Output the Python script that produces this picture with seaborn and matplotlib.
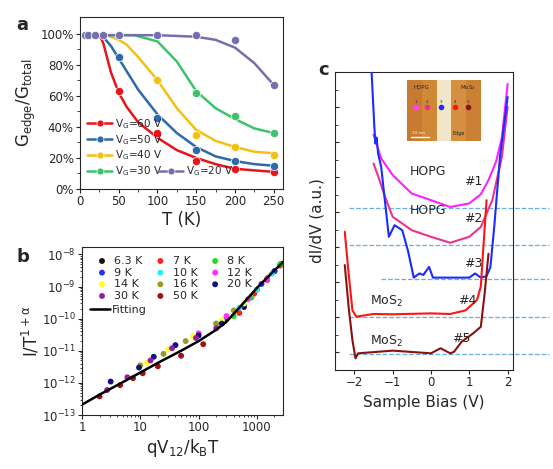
import numpy as np
import pandas as pd
import matplotlib
matplotlib.use("Agg")
import matplotlib.pyplot as plt
import matplotlib.ticker as mticker
import seaborn as sns
from matplotlib.lines import Line2D

sns.set_style("ticks")
plt.rcParams['font.family'] = ['DejaVu Sans']
plt.rcParams['mathtext.default'] = 'regular'

# ---------------- panel a data ----------------
a_labels = ["V$_G$=60 V", "V$_G$=50 V", "V$_G$=40 V", "V$_G$=30 V", "V$_G$=20 V"]
a_colors = ["#e8131b", "#2e6aa8", "#f5c012", "#3cc36c", "#7470b0"]
a_pts_T = [[50, 100, 150, 200, 250],
           [50, 100, 150, 200, 250],
           [100, 150, 200, 250],
           [150, 200, 250],
           [7, 10, 20, 30, 50, 100, 150, 200, 250]]
a_pts_G = [[63, 36, 18, 13, 11],
           [85, 46, 25, 18, 15],
           [70, 35, 27, 22],
           [62, 47, 36],
           [99, 99, 99, 99, 99, 99, 99, 96, 67]]
a_fit_T = [[5, 25, 30, 40, 50, 60, 75, 100, 125, 150, 175, 200, 225, 250],
           [5, 28, 40, 50, 60, 75, 100, 125, 150, 175, 200, 225, 250],
           [5, 35, 50, 60, 75, 100, 125, 150, 175, 200, 225, 250],
           [5, 70, 100, 125, 150, 175, 200, 225, 250],
           [5, 100, 150, 175, 200, 225, 250]]
a_fit_G = [[99, 99, 94, 75, 62, 53, 43, 33, 25, 20, 16, 13, 12, 11],
           [99, 99, 92, 84, 76, 64, 48, 36, 27, 21, 18, 16, 15],
           [99, 99, 96, 93, 85, 70, 52, 38, 31, 27, 24, 23],
           [99, 99, 95, 82, 63, 52, 45, 39, 36],
           [99, 99, 98, 96, 91, 81, 67]]

# ---------------- panel b data ----------------
b_labels = ["6.3 K", "7 K", "8 K", "9 K", "10 K", "12 K", "14 K", "16 K", "20 K", "30 K", "50 K"]
b_colors = ["#111111", "#ff2020", "#22dd22", "#2030ff", "#20f0f0", "#ff30ff",
            "#ffff20", "#9a9a20", "#101080", "#9020a0", "#a01010"]
b_x = [[600, 1000, 2000, 2600],
       [500, 900, 1500, 2500],
       [400, 800, 1500, 2500],
       [300, 600, 1200, 2000],
       [200, 500, 1000, 1800],
       [100, 300, 700, 1500],
       [13, 30, 80, 250, 600],
       [10, 25, 60, 200, 400],
       [3.1, 9.5, 17, 40, 100, 250],
       [2.7, 6, 15, 35, 90, 200],
       [2, 4.5, 7.5, 11, 20, 50, 120]]
b_y = [[2.3e-10, 8e-10, 3e-9, 5e-9],
       [1.5e-10, 6e-10, 1.6e-9, 4.5e-9],
       [1.2e-10, 4.5e-10, 1.8e-9, 5e-9],
       [1.0e-10, 2.8e-10, 1.2e-9, 3e-9],
       [7e-11, 2.2e-10, 8e-10, 2.5e-9],
       [3.5e-11, 1.2e-10, 4e-10, 1.8e-9],
       [4.3e-12, 1.1e-11, 2.8e-11, 9e-11, 3e-10],
       [3.5e-12, 8e-12, 2e-11, 7e-11, 1.8e-10],
       [1.1e-12, 3e-12, 6.5e-12, 1.5e-11, 3e-11, 7e-11],
       [6e-13, 1.5e-12, 5e-12, 1.2e-11, 2.5e-11, 5e-11],
       [3.8e-13, 8.5e-13, 1.4e-12, 2e-12, 3.3e-12, 7e-12, 1.6e-11]]
fit_x = [1, 2, 5, 10, 20, 50, 100, 200, 300, 500, 1000, 2000, 3000, 4000]
fit_y = [2.1e-13, 4.3e-13, 1.05e-12, 2.1e-12, 4.2e-12, 1.0e-11, 2.0e-11, 4.5e-11,
         8e-11, 2.2e-10, 9e-10, 3.2e-9, 6.5e-9, 1.1e-8]

# ---------------- panel c data ----------------
c_names = ["#1", "#2", "#3", "#4", "#5"]
c_colors = ["#ff20ff", "#f0308c", "#1a2cff", "#ff1414", "#8b1010"]
c_baseline = [5.45, 4.21, 3.05, 1.78, 0.54]
c_x = [[-1.5, -1.3, -1.0, -0.5, 0.0, 0.5, 1.0, 1.3, 1.5, 1.7, 1.85, 2.0],
       [-1.5, -1.35, -1.2, -1.0, -0.5, 0.0, 0.5, 1.0, 1.3, 1.6, 1.85, 2.0],
       [-1.55, -1.48, -1.45, -1.42, -1.38, -1.3, -1.1, -0.95, -0.75, -0.6, -0.45, -0.3, -0.2, -0.05,
        0.05, 0.5, 1.0, 1.15, 1.3, 1.45, 1.55, 1.65, 1.8, 2.0],
       [-2.25, -2.15, -2.05, -1.95, -1.5, -1.0, 0.0, 0.5, 0.9, 1.2, 1.3, 1.35, 1.45],
       [-2.25, -2.15, -2.05, -1.97, -1.9, -1.5, -1.0, 0.0, 0.25, 0.5, 0.6, 0.8, 1.1, 1.3, 1.4, 1.5]]
c_y = [[7.9, 7.1, 6.54, 5.92, 5.7, 5.47, 5.59, 5.9, 6.37, 7.0, 7.8, 9.6],
       [6.93, 6.4, 5.81, 5.14, 4.69, 4.47, 4.27, 4.47, 4.8, 5.7, 7.15, 8.83],
       [10.0, 8.2, 7.6, 7.8, 7.26, 6.82, 4.47, 4.86, 4.69, 4.0, 3.1, 3.24, 3.19, 3.46,
        3.1, 3.1, 3.1, 3.24, 3.1, 3.15, 3.45, 4.8, 7.15, 9.16],
       [4.64, 3.24, 2.0, 1.79, 1.88, 1.87, 1.9, 1.88, 2.0, 2.35, 2.8, 3.8, 5.7],
       [3.52, 2.12, 1.0, 0.39, 0.56, 0.6, 0.65, 0.56, 0.73, 0.56, 0.61, 0.95, 1.23, 1.45, 2.57, 3.9]]

W, H = 553, 469
fig = plt.figure(figsize=(W / 100, H / 100), dpi=100)

def ax_px(l, t, r, b):
    return fig.add_axes([l / W, 1 - b / H, (r - l) / W, (b - t) / H])

TICK = 8.5
LAB = 11

# ---------------- panel a ----------------
axa = ax_px(80, 17, 283, 189)
for i in range(5):
    sns.lineplot(x=a_fit_T[i], y=a_fit_G[i], color=a_colors[i], lw=1.8, ax=axa, legend=False)
    sns.scatterplot(x=a_pts_T[i], y=a_pts_G[i], color=a_colors[i], s=35, ax=axa,
                    edgecolor='white', linewidth=0.5, legend=False, zorder=3)
axa.set_xlim(0, 262)
axa.set_ylim(0, 110.7)
axa.set_yticks([0, 20, 40, 60, 80, 100])
axa.set_yticklabels([f"{v}%" for v in [0, 20, 40, 60, 80, 100]])
axa.set_xticks([0, 50, 100, 150, 200, 250])
axa.set_xticks(np.arange(0, 262, 25), minor=True)
axa.set_yticks(np.arange(0, 110, 10), minor=True)
axa.tick_params(labelsize=TICK, direction='out', length=3, pad=1.5)
axa.tick_params(which='minor', length=2)
axa.set_xlabel("T (K)", fontsize=LAB + 1, labelpad=2)
axa.set_ylabel("G$_{edge}$/G$_{total}$", fontsize=LAB + 1, labelpad=2)
handles = [Line2D([], [], color=c, lw=1.8, marker='o', markersize=5, markeredgecolor='white',
                  markeredgewidth=0.5) for c in a_colors]
leg1 = axa.legend(handles[:4], a_labels[:4], loc='lower left', bbox_to_anchor=(0.0, 0.02),
                  frameon=False, fontsize=7.5, handlelength=2.4, borderpad=0.2, labelspacing=0.2,
                  handletextpad=0.3)
axa.add_artist(leg1)
axa.legend(handles[4:], a_labels[4:], loc='lower left', bbox_to_anchor=(0.35, 0.02),
           frameon=False, fontsize=7.5, handlelength=2.4, borderpad=0.2, handletextpad=0.3)
fig.text(16 / W, 1 - 30 / H, "a", fontsize=13, fontweight='bold')

# ---------------- panel b ----------------
axb = ax_px(82, 247, 283, 415)
axb.set_xscale('log')
axb.set_yscale('log')
for i in range(len(b_labels)):
    sns.scatterplot(x=b_x[i], y=b_y[i], color=b_colors[i], s=18, ax=axb, edgecolor='none',
                    label=b_labels[i], zorder=3)
sns.lineplot(x=fit_x, y=fit_y, color='black', lw=1.8, ax=axb, label='Fitting', zorder=4)
axb.set_xlim(1, 2800)
axb.set_ylim(1e-13, 1.7e-8)
axb.xaxis.set_major_formatter(mticker.FuncFormatter(lambda v, p: f"{v:g}"))
axb.xaxis.set_minor_formatter(mticker.NullFormatter())
axb.tick_params(labelsize=TICK, direction='out', length=3, pad=1.5)
axb.tick_params(which='minor', length=1.5)
axb.set_xlabel("qV$_{12}$/k$_B$T", fontsize=LAB + 1, labelpad=2)
axb.set_ylabel("I/T$^{1+\\alpha}$", fontsize=LAB + 1, labelpad=0)
hb, lb = axb.get_legend_handles_labels()
order = [0, 3, 6, 9, 1, 4, 7, 10, 2, 5, 8]
leg_b = axb.legend([hb[i] for i in order], [lb[i] for i in order], ncol=3, loc='upper left',
                   frameon=False, fontsize=8, handletextpad=0.1, columnspacing=0.6,
                   labelspacing=0.15, borderpad=0.3)
axb.add_artist(leg_b)
axb.legend([hb[11]], [lb[11]], loc='upper left', bbox_to_anchor=(0.0, 0.7), frameon=False,
           fontsize=8, handlelength=1.8, handletextpad=0.2, borderpad=0.2)
fig.text(17 / W, 1 - 262 / H, "b", fontsize=13, fontweight='bold')

# ---------------- panel c ----------------
axc = ax_px(335, 72, 513, 370)
for i in range(5):
    axc.axhline(c_baseline[i], xmin=0.08 if i != 2 else 0.26, xmax=1.2, color='#6aaee0',
                lw=0.9, ls='--', clip_on=False)
for i in range(5):
    sns.lineplot(x=c_x[i], y=c_y[i], color=c_colors[i], lw=1.5, ax=axc, legend=False,
                 sort=False, zorder=3)
axc.set_xlim(-2.505, 2.14)
axc.set_ylim(0, 10)
axc.set_xticks([-2, -1, 0, 1, 2])
axc.set_yticks(np.arange(0.6, 10, 1.175))
axc.set_yticks(np.arange(0.6 + 0.5875, 10, 1.175), minor=True)
axc.set_yticklabels([])
axc.tick_params(axis='y', direction='in', length=3)
axc.tick_params(axis='y', which='minor', direction='in', length=2)
axc.tick_params(axis='x', labelsize=TICK, direction='out', length=3, pad=1.5)
axc.set_xlabel("Sample Bias (V)", fontsize=LAB)
axc.set_ylabel("dI/dV (a.u.)", fontsize=LAB)
TXT = 9
axc.text(-0.55, 6.55, "HOPG", fontsize=TXT)
axc.text(-0.55, 5.25, "HOPG", fontsize=TXT)
axc.text(0.85, 6.2, "#1", fontsize=TXT)
axc.text(0.85, 4.95, "#2", fontsize=TXT)
axc.text(0.85, 3.45, "#3", fontsize=TXT)
axc.text(0.7, 2.2, "#4", fontsize=TXT)
axc.text(0.55, 0.95, "#5", fontsize=TXT)
axc.text(-1.6, 2.2, "MoS$_2$", fontsize=TXT)
axc.text(-1.6, 0.85, "MoS$_2$", fontsize=TXT)
fig.text(318 / W, 1 - 75 / H, "c", fontsize=13, fontweight='bold')

# inset (schematic topography)
inset_cols = ["#c87a30", "#d08836", "#f2e6c8", "#d49040", "#cc8034"]
axi = ax_px(407, 80, 481, 141)
img = np.array([[0, 1, 2, 3, 4]])
axi.imshow(img, cmap=matplotlib.colors.ListedColormap(inset_cols), aspect='auto',
           extent=[0, 1, 0, 1])
axi.set_xticks([]); axi.set_yticks([])
for s in axi.spines.values():
    s.set_visible(False)
for xx, col, lab in zip([0.12, 0.27, 0.46, 0.65, 0.82],
                        ["#ff40ff", "#f0308c", "#1a2cff", "#ff1414", "#8b1010"],
                        ["1", "2", "3", "4", "5"]):
    axi.plot(xx, 0.55, 'o', color=col, markersize=3)
    axi.text(xx, 0.62, lab, fontsize=3, ha='center')
axi.text(0.2, 0.85, "HOPG", fontsize=4, ha='center')
axi.text(0.82, 0.85, "MoS$_2$", fontsize=4, ha='center')
axi.plot([0.05, 0.3], [0.07, 0.07], color='white', lw=1)
axi.text(0.07, 0.12, "10 nm", fontsize=3, color='white')
axi.text(0.62, 0.1, "Edge", fontsize=3.5)

fig.savefig("out.png", dpi=100)
